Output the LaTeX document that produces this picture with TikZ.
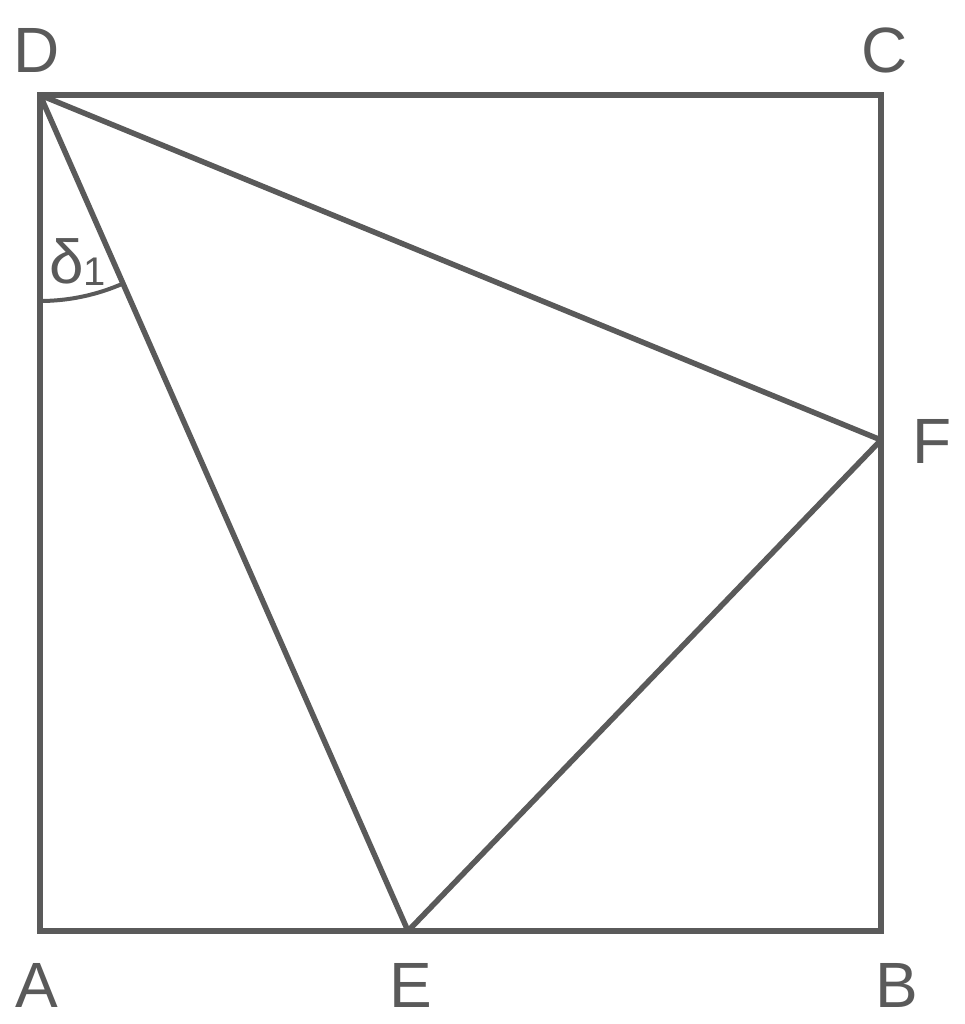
\documentclass[tikz,border=0pt]{standalone}
\usepackage{fontspec}
\setmainfont{Liberation Sans}
\definecolor{ink}{HTML}{5A5A5A}
\begin{document}
\begin{tikzpicture}[x=1pt,y=1pt,
  edge/.style={draw=ink,line width=5.5pt,line join=round,line cap=round},
  lbl/.style={text=ink,font=\fontsize{64}{70}\selectfont,inner sep=0pt}]
\useasboundingbox (0,0) rectangle (964,-1024);
\coordinate (A) at (40,-931);
\coordinate (B) at (881,-931);
\coordinate (C) at (881,-95);
\coordinate (D) at (40,-95);
\coordinate (E) at (408,-931);
\coordinate (F) at (881,-440);
\draw[edge,line join=miter] (A) -- (B) -- (C) -- (D) -- cycle;
\draw[edge] (D) -- (E) -- (F) -- cycle;
\draw[draw=ink,line width=4pt] (D) ++(-90:206) arc[start angle=-90,end angle=-66.24,radius=206];
\node[lbl] (lD) at (37,-50) {D};
\node[lbl] (lC) at (885,-50) {C};
\node[lbl] (lF) at (932,-441) {F};
\node[lbl] (lA) at (37,-985) {A};
\node[lbl] (lE) at (411,-985) {E};
\node[lbl] (lB) at (897,-985) {B};
\node[text=ink,inner sep=0pt,anchor=base west] (ld) at (49,-283) {\fontsize{62}{66}\selectfont δ\fontsize{40}{44}\selectfont\raisebox{-2pt}{1}};
\end{tikzpicture}
\end{document}
